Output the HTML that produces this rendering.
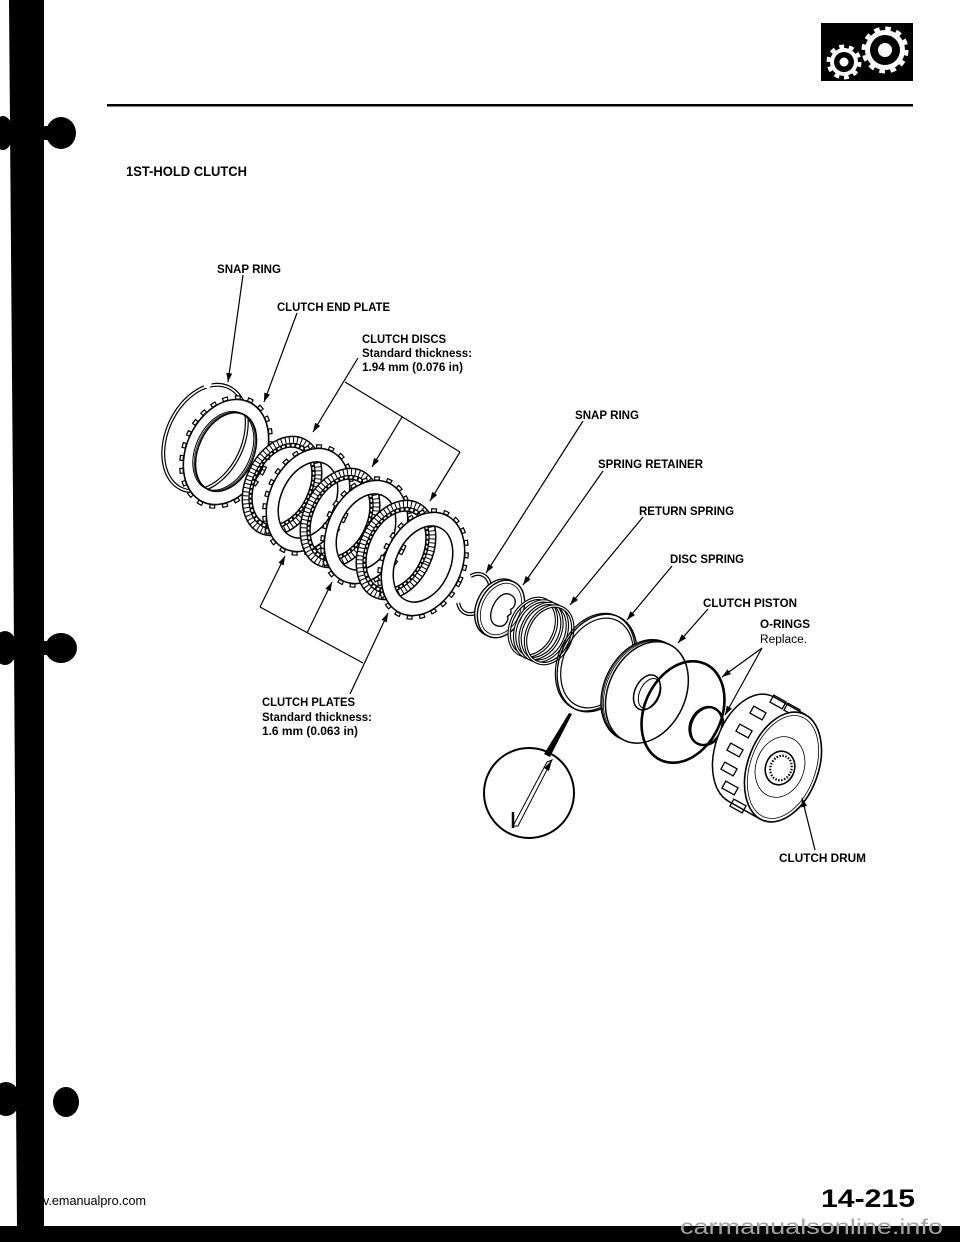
<!DOCTYPE html>
<html><head><meta charset="utf-8">
<style>
html,body{margin:0;padding:0;background:#fff;}
body{width:960px;height:1242px;overflow:hidden;position:relative;}
svg{position:absolute;left:0;top:0;display:block;}
text{font-family:"Liberation Sans",Arial,sans-serif;}
</style></head><body>
<svg width="960" height="1242" viewBox="0 0 960 1242" xmlns="http://www.w3.org/2000/svg">
<defs>
<marker id="ar" markerWidth="9" markerHeight="6" refX="9" refY="3" orient="auto" markerUnits="userSpaceOnUse">
<path d="M0,0 L9,3 L0,6 Z" fill="#000"/>
</marker>
<g id="plate">
 <ellipse rx="40.5" ry="56" fill="none" stroke="#000" stroke-width="4.5" stroke-dasharray="6 6.5"/>
 <ellipse rx="40.5" ry="56" fill="none" stroke="#fff" stroke-width="2" stroke-dasharray="3.6 8.9" stroke-dashoffset="-1.2"/>
 <path d="M-38.5,0A38.5,54 0 1,0 38.5,0A38.5,54 0 1,0 -38.5,0ZM-27,0A27,40 0 1,0 27,0A27,40 0 1,0 -27,0Z" fill="#fff" fill-rule="evenodd" stroke="#000" stroke-width="1.5"/>
</g>
<g id="disc">
 <path d="M-36.5,0A36.5,52 0 1,0 36.5,0A36.5,52 0 1,0 -36.5,0ZM-27,0A27,41 0 1,0 27,0A27,41 0 1,0 -27,0Z" fill="#fff" fill-rule="evenodd" stroke="#000" stroke-width="1.5"/>
 <ellipse rx="33.2" ry="48.5" fill="none" stroke="#000" stroke-width="6.5" stroke-dasharray="1 3"/>
 <ellipse rx="29.8" ry="44.8" fill="none" stroke="#000" stroke-width="1.3"/>
 <ellipse rx="28.3" ry="42.9" fill="none" stroke="#000" stroke-width="2.6" stroke-dasharray="2 2.8"/>
</g>
<g id="coil">
 <ellipse rx="22" ry="30" fill="none" stroke="#000" stroke-width="3.4"/>
 <ellipse rx="22" ry="30" fill="none" stroke="#fff" stroke-width="1.2"/>
</g>
</defs>

<!-- left binding bar -->
<path d="M9,0 H44 V1226 H17 L16,1100 L15,800 L13,500 L11,250 Z" fill="#000"/>
<ellipse cx="61" cy="133" rx="15" ry="16" fill="#000"/>
<rect x="40" y="126" width="12" height="14" fill="#000"/>
<ellipse cx="3" cy="133" rx="10" ry="17" fill="#000"/>
<ellipse cx="61" cy="648" rx="16" ry="15" fill="#000"/>
<rect x="40" y="641" width="12" height="14" fill="#000"/>
<ellipse cx="5" cy="648" rx="12" ry="17" fill="#000"/>
<ellipse cx="66" cy="1102" rx="13" ry="15" fill="#000"/>
<ellipse cx="6" cy="1099" rx="14" ry="17" fill="#000"/>
<rect x="0" y="1226" width="960" height="16" fill="#000"/>

<!-- header -->
<rect x="821" y="23" width="92" height="58" fill="#000"/>
<circle cx="844" cy="62" r="15.5" fill="none" stroke="#fff" stroke-width="4" stroke-dasharray="4.87 4.87"/>
<circle cx="844" cy="62" r="14" fill="#fff"/>
<circle cx="844" cy="62" r="10" fill="#000"/>
<circle cx="844" cy="62" r="4.5" fill="#fff"/>
<circle cx="885" cy="50" r="21.5" fill="none" stroke="#fff" stroke-width="4" stroke-dasharray="5.63 5.63"/>
<circle cx="885" cy="50" r="20" fill="#fff"/>
<circle cx="885" cy="50" r="15" fill="#000"/>
<circle cx="885" cy="50" r="7" fill="#fff"/>
<rect x="107" y="104" width="806" height="2.5" fill="#000"/>

<text x="126" y="176" font-size="14" font-weight="bold" textLength="121" lengthAdjust="spacingAndGlyphs">1ST-HOLD CLUTCH</text>

<!-- left stack -->
<g transform="translate(205,438) rotate(25)">
 <ellipse rx="38" ry="56" fill="none" stroke="#000" stroke-width="4"/>
 <ellipse rx="38" ry="56" fill="none" stroke="#fff" stroke-width="1.6"/>
 <rect x="-23" y="-62" width="6" height="16" fill="#fff"/>
</g>
<g transform="translate(226,452) rotate(25)">
 <ellipse rx="41.5" ry="57" fill="none" stroke="#000" stroke-width="4.5" stroke-dasharray="6 6.8"/>
 <ellipse rx="41.5" ry="57" fill="none" stroke="#fff" stroke-width="2" stroke-dasharray="3.6 9.2" stroke-dashoffset="-1.2"/>
 <path d="M-39.5,0A39.5,55 0 1,0 39.5,0A39.5,55 0 1,0 -39.5,0ZM-27.5,0A27.5,41.5 0 1,0 27.5,0A27.5,41.5 0 1,0 -27.5,0Z" fill="#fff" fill-rule="evenodd" stroke="#000" stroke-width="1.6"/>
 <ellipse cx="-3" rx="27.5" ry="41.5" fill="none" stroke="#000" stroke-width="1"/>
 <ellipse cx="-1.5" rx="27.5" ry="41.5" fill="none" stroke="#000" stroke-width="0.7"/>
</g>
<use href="#disc" transform="translate(282,486) rotate(25)"/>
<use href="#plate" transform="translate(308,500) rotate(25)"/>
<use href="#disc" transform="translate(340,518) rotate(25)"/>
<use href="#plate" transform="translate(366,532) rotate(25)"/>
<use href="#disc" transform="translate(396,550) rotate(25)"/>
<use href="#plate" transform="translate(423,564) rotate(25)"/>

<!-- right components -->
<g transform="translate(474,594) rotate(25)">
 <path d="M-10.6,-14.8 A15,21 0 1,1 -10.6,14.8" fill="none" stroke="#000" stroke-width="4"/>
 <path d="M-10.6,-14.8 A15,21 0 1,1 -10.6,14.8" fill="none" stroke="#fff" stroke-width="1.5"/>
</g>
<g transform="translate(501,609) rotate(25)">
 <ellipse cx="-3" rx="22" ry="30" fill="#fff" stroke="#000" stroke-width="1.4"/>
 <ellipse rx="22" ry="30" fill="#fff" stroke="#000" stroke-width="1.4"/>
 <ellipse rx="19" ry="27" fill="none" stroke="#000" stroke-width="0.8"/>
 <path d="M2,-17 C12,-17 12,-6 9,-4 L11,0 L9,4 C12,6 12,17 2,17 C-12,17 -12,-17 2,-17 Z" fill="#fff" stroke="#000" stroke-width="1.3"/>
</g>
<g transform="translate(541,631) rotate(25)">
 <use href="#coil" x="-9"/>
 <use href="#coil" x="-3"/>
 <use href="#coil" x="3"/>
 <use href="#coil" x="9"/>
</g>
<g transform="translate(597,663) rotate(25)" fill="none" stroke="#000">
 <ellipse cx="-2" rx="37" ry="51" stroke-width="1.2"/>
 <ellipse rx="37" ry="51" stroke-width="1.4"/>
 <ellipse rx="33.5" ry="47" stroke-width="1.2"/>
</g>
<g transform="translate(646,692) rotate(25)" stroke="#000">
 <ellipse cx="-4" rx="38.5" ry="53" fill="#fff" stroke-width="1.3"/>
 <ellipse cx="-2.7" rx="38.5" ry="53" fill="none" stroke-width="0.8"/>
 <ellipse cx="-1.3" rx="38.5" ry="53" fill="none" stroke-width="0.8"/>
 <ellipse cx="1" rx="38.5" ry="53" fill="#fff" stroke-width="1.5"/>
 <ellipse cx="1" rx="12" ry="18.5" fill="#fff" stroke-width="1.5"/>
 <ellipse cx="4" rx="10" ry="16" fill="none" stroke-width="1"/>
</g>
<g transform="translate(683,712) rotate(25)" fill="none" stroke="#000">
 <ellipse rx="38.5" ry="53" stroke-width="2.6"/>
</g>
<g transform="translate(706,726) rotate(25)" fill="none" stroke="#000">
 <ellipse rx="15.7" ry="19.6" stroke-width="2.4"/>
 <ellipse cx="1.5" rx="15.7" ry="19.6" stroke-width="1.2"/>
</g>

<!-- clutch drum -->
<g stroke="#000">
 <ellipse cx="0" cy="0" rx="35.3" ry="57" transform="translate(751,749) rotate(20)" fill="#fff" stroke-width="1.5"/>
 <polygon points="773.8,696.9 805.8,714.9 760.2,819.1 728.2,801.1" fill="#fff" stroke="none"/>
 <line x1="773.8" y1="696.9" x2="805.8" y2="714.9" stroke-width="1.5"/>
 <line x1="728.2" y1="801.1" x2="760.2" y2="819.1" stroke-width="1.5"/>
 <g fill="none" stroke-width="1.3">
  <rect x="-7" y="-4" width="14" height="8" transform="translate(778,702) rotate(29)"/>
  <rect x="-7" y="-4" width="14" height="8" transform="translate(792,710) rotate(29)"/>
  <rect x="-7" y="-4" width="14" height="8" transform="translate(758,713) rotate(29)"/>
  <rect x="-7" y="-4" width="14" height="8" transform="translate(744,731) rotate(29)"/>
  <rect x="-7" y="-4" width="14" height="8" transform="translate(735,750) rotate(29)"/>
  <rect x="-7" y="-4" width="14" height="8" transform="translate(729,769) rotate(29)"/>
  <rect x="-7" y="-4" width="14" height="8" transform="translate(730,788) rotate(29)"/>
  <rect x="-7" y="-4" width="14" height="8" transform="translate(738,806) rotate(29)"/>
 </g>
 <g transform="translate(783,767) rotate(20)">
  <ellipse rx="35.3" ry="57" fill="#fff" stroke-width="1.6"/>
  <ellipse rx="32.5" ry="53.5" fill="none" stroke-width="0.8"/>
 </g>
 <ellipse rx="24" ry="31" transform="translate(780,767) rotate(20)" fill="none" stroke-width="0.8"/>
 <ellipse rx="14.5" ry="17" transform="translate(780,768) rotate(20)" fill="#fff" stroke-width="1.6"/>
 <ellipse rx="10.5" ry="12.5" transform="translate(781,768) rotate(20)" fill="none" stroke-width="2.2" stroke-dasharray="1.5 1.5"/>
</g>

<!-- magnifier -->
<circle cx="529" cy="793" r="45" fill="#fff" stroke="#000" stroke-width="2"/>
<polygon points="569,713 572,714 550,757 544,754" fill="#000"/>
<polygon points="547,762 552,760 518,826 513,826" fill="none" stroke="#000" stroke-width="1"/>
<polygon points="544,768 552,760 549,771" fill="#000"/>
<line x1="513" y1="812" x2="513" y2="828" stroke="#000" stroke-width="2.5"/>

<!-- leaders -->
<g stroke="#000" stroke-width="1.2" fill="none">
 <line x1="243" y1="275" x2="228" y2="382" marker-end="url(#ar)"/>
 <line x1="297" y1="313" x2="264" y2="402" marker-end="url(#ar)"/>
 <line x1="358" y1="358" x2="313" y2="432" marker-end="url(#ar)"/>
 <line x1="345" y1="382" x2="460" y2="452"/>
 <line x1="402" y1="417" x2="372" y2="467" marker-end="url(#ar)"/>
 <line x1="460" y1="452" x2="430" y2="501" marker-end="url(#ar)"/>
 <line x1="260" y1="607" x2="285" y2="556" marker-end="url(#ar)"/>
 <line x1="260" y1="607" x2="363" y2="663"/>
 <line x1="307" y1="633" x2="332" y2="582" marker-end="url(#ar)"/>
 <line x1="350" y1="694" x2="388" y2="613" marker-end="url(#ar)"/>
 <line x1="583" y1="421" x2="486" y2="573" marker-end="url(#ar)"/>
 <line x1="603" y1="471" x2="523" y2="585" marker-end="url(#ar)"/>
 <line x1="643" y1="517" x2="570" y2="605" marker-end="url(#ar)"/>
 <line x1="672" y1="566" x2="627" y2="620" marker-end="url(#ar)"/>
 <line x1="708" y1="609" x2="678" y2="643" marker-end="url(#ar)"/>
 <line x1="762" y1="648" x2="722" y2="677" marker-end="url(#ar)"/>
 <line x1="762" y1="648" x2="725" y2="715" marker-end="url(#ar)"/>
 <line x1="815" y1="850" x2="802" y2="798" marker-end="url(#ar)"/>
</g>

<!-- labels -->
<g font-size="11.5" font-weight="bold" fill="#000">
 <text x="217" y="273" textLength="64" lengthAdjust="spacingAndGlyphs">SNAP RING</text>
 <text x="277" y="311" textLength="113" lengthAdjust="spacingAndGlyphs">CLUTCH END PLATE</text>
 <text x="362" y="343" textLength="84" lengthAdjust="spacingAndGlyphs">CLUTCH DISCS</text>
 <text x="362" y="357" textLength="110" lengthAdjust="spacingAndGlyphs">Standard thickness:</text>
 <text x="362" y="371" textLength="101" lengthAdjust="spacingAndGlyphs">1.94 mm (0.076 in)</text>
 <text x="575" y="419" textLength="64" lengthAdjust="spacingAndGlyphs">SNAP RING</text>
 <text x="598" y="468" textLength="105" lengthAdjust="spacingAndGlyphs">SPRING RETAINER</text>
 <text x="639" y="515" textLength="95" lengthAdjust="spacingAndGlyphs">RETURN SPRING</text>
 <text x="670" y="563" textLength="74" lengthAdjust="spacingAndGlyphs">DISC SPRING</text>
 <text x="703" y="607" textLength="94" lengthAdjust="spacingAndGlyphs">CLUTCH PISTON</text>
 <text x="760" y="628" textLength="50" lengthAdjust="spacingAndGlyphs">O-RINGS</text>
 <text x="262" y="706" textLength="93" lengthAdjust="spacingAndGlyphs">CLUTCH PLATES</text>
 <text x="262" y="721" textLength="110" lengthAdjust="spacingAndGlyphs">Standard thickness:</text>
 <text x="262" y="735" textLength="96" lengthAdjust="spacingAndGlyphs">1.6 mm (0.063 in)</text>
 <text x="779" y="862" textLength="87" lengthAdjust="spacingAndGlyphs">CLUTCH DRUM</text>
</g>
<text x="760" y="643" font-size="11.5" fill="#000" textLength="47" lengthAdjust="spacingAndGlyphs">Replace.</text>

<!-- footer -->
<text x="43" y="1205" font-size="12.5" fill="#000" textLength="103" lengthAdjust="spacingAndGlyphs">v.emanualpro.com</text>
<text x="821" y="1207" font-size="25" font-weight="bold" fill="#000" textLength="94" lengthAdjust="spacingAndGlyphs">14-215</text>
<text x="680" y="1234" font-size="21" fill="#a4a4a4" textLength="263" lengthAdjust="spacingAndGlyphs">carmanualsonline.info</text>
</svg>
</body></html>
